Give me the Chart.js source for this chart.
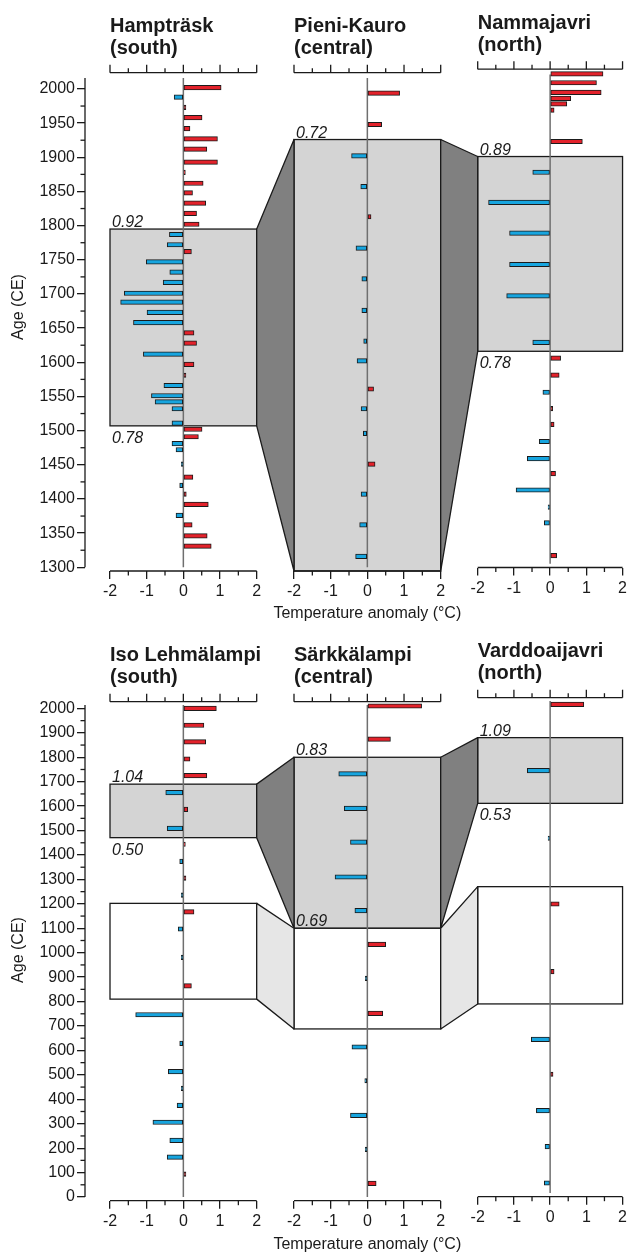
<!DOCTYPE html>
<html>
<head>
<meta charset="utf-8">
<script src="https://cdn.jsdelivr.net/npm/chart.js@4.4.1/dist/chart.umd.min.js"></script>
<style>
html, body { margin: 0; padding: 0; background: #fff; }
#wrap { position: relative; width: 630px; height: 1254px; }
#wrap canvas { position: absolute; left: 0; top: 0; }
</style>
</head>
<body>
<div id="wrap"></div>
<script>
// ---- data (ages in years CE, anomalies in °C) ----
const hampAges = [2002, 1988, 1973, 1958, 1942, 1927, 1912, 1893, 1878, 1862, 1848, 1833, 1818, 1802, 1787,
  1772, 1762, 1747, 1732, 1717, 1701, 1688, 1673, 1658, 1643, 1628, 1612, 1597, 1581, 1566,
  1551, 1542, 1532, 1511, 1502, 1491, 1481, 1472, 1451, 1432, 1420, 1407, 1392, 1376, 1362, 1346, 1331];
const hampVals = [1.03, -0.25, 0.07, 0.51, 0.18, 0.93, 0.64, 0.93, 0.05, 0.54, 0.25, 0.61, 0.36, 0.43, -0.38,
  -0.44, 0.22, -1.01, -0.37, -0.55, -1.61, -1.71, -0.99, -1.36, 0.29, 0.36, -1.09, 0.29, 0.07, -0.53,
  -0.87, -0.77, -0.31, -0.31, 0.51, 0.41, -0.31, -0.2, -0.02, 0.26, -0.1, 0.08, 0.68, -0.2, 0.24, 0.65, 0.76];

const pieniAges = [1994, 1948, 1902, 1857, 1813, 1767, 1722, 1676, 1631, 1602, 1561, 1532, 1496, 1451, 1407, 1362, 1316];
const pieniVals = [0.88, 0.39, -0.43, -0.18, 0.1, -0.31, -0.15, -0.15, -0.1, -0.28, 0.17, -0.17, -0.11, 0.21, -0.17, -0.21, -0.32];

const nammaAges = [2017, 2004, 1990, 1981, 1973, 1964, 1918, 1873, 1829, 1784, 1738, 1692, 1624,
  1601, 1576, 1551, 1527, 1504, 1479, 1454, 1432, 1408, 1383, 1360, 1312];
const nammaVals = [1.46, 1.28, 1.41, 0.57, 0.46, 0.11, 0.89, -0.48, -1.7, -1.12, -1.12, -1.2, -0.48,
  0.29, 0.25, -0.2, 0.07, 0.11, -0.3, -0.63, 0.15, -0.94, -0.02, -0.16, 0.18];

const isoAges = [2000, 1931, 1863, 1793, 1725, 1655, 1587, 1509, 1444, 1374, 1305, 1236, 1167, 1097,
  981, 864, 746, 629, 513, 445, 375, 306, 232, 163, 94];
const isoVals = [0.9, 0.56, 0.61, 0.18, 0.64, -0.48, 0.12, -0.44, 0.04, -0.1, 0.07, -0.04, 0.29, -0.14,
  -0.02, 0.22, -1.3, -0.1, -0.41, -0.02, -0.17, -0.83, -0.37, -0.44, 0.07];

const sarkAges = [2010, 1874, 1732, 1591, 1453, 1310, 1172, 1034, 895, 752, 614, 476, 334, 195, 56];
const sarkVals = [1.48, 0.63, -0.78, -0.63, -0.46, -0.88, -0.34, 0.5, -0.02, 0.42, -0.42, -0.07, -0.46, -0.02, 0.24];

const vardAges = [2000, 1729, 1452, 1183, 906, 629, 486, 337, 190, 41];
const vardVals = [0.93, -0.63, -0.02, 0.25, 0.11, -0.52, 0.08, -0.38, -0.14, -0.16];

// boxes: [upper age, lower age] and the correlation labels shown with them
const hampBox = [1795, 1507], hampBoxText = ["0.92", "0.78"];
const pieniBox = [1926, 1294.6], pieniBoxText = ["0.72", ""];
const nammaBox = [1896, 1611], nammaBoxText = ["0.89", "0.78"];
const isoBox = [1690, 1471], isoBoxText = ["1.04", "0.50"];
const isoBox2 = [1202, 810];
const sarkBox = [1800, 1100], sarkBoxText = ["0.83", "0.69"];
const sarkBox2 = [1100, 688];
const vardBox = [1864, 1595], vardBoxText = ["1.09", "0.53"];
const vardBox2 = [1254, 774];

const tempTicks = [-2, -1, 0, 1, 2];
const tempMinor = [-1.5, -0.5, 0.5, 1.5];
const topAgeTicks = [1300, 1350, 1400, 1450, 1500, 1550, 1600, 1650, 1700, 1750, 1800, 1850, 1900, 1950, 2000];
const bottomAgeTicks = [0, 100, 200, 300, 400, 500, 600, 700, 800, 900, 1000,
  1100, 1200, 1300, 1400, 1500, 1600, 1700, 1800, 1900, 2000];

// ---- styling / layout ----
const RED = "#e3222b", BLUE = "#17a5df", INK = "#1a1a1a";
const GRAY = "#d4d4d4", WHITE = "#ffffff", DARK = "#808080", LIGHT = "#e6e6e6";
const FONT = "'Liberation Sans', Arial, Helvetica, sans-serif";
Chart.defaults.font.family = FONT;
Chart.defaults.color = INK;

const rows = [
  { top: 72.7, bottom: 571, yMin: 1294.6, yMax: 2023.8, ticks: topAgeTicks, ageFrom: 1300, ageTo: 2016, titleY: 613.3, ageTitleY: 307, shift3: -3.5 },
  { top: 701.7, bottom: 1200.7, yMin: -15.1, yMax: 2027.5, ticks: bottomAgeTicks, ageFrom: 0, ageTo: 2014, titleY: 1245, ageTitleY: 950, shift3: -4 }
];
const colLeft = [110, 294, 477.7];
const colW = 146.7;
const yAxisW = 85;

const panels = [
  { name: ["Hampträsk", "(south)"], ages: hampAges, vals: hampVals, row: 0, col: 0,
    boxes: [{ range: hampBox, fill: GRAY, text: hampBoxText }] },
  { name: ["Pieni-Kauro", "(central)"], ages: pieniAges, vals: pieniVals, row: 0, col: 1,
    boxes: [{ range: pieniBox, fill: GRAY, text: pieniBoxText }] },
  { name: ["Nammajavri", "(north)"], ages: nammaAges, vals: nammaVals, row: 0, col: 2,
    boxes: [{ range: nammaBox, fill: GRAY, text: nammaBoxText }] },
  { name: ["Iso Lehmälampi", "(south)"], ages: isoAges, vals: isoVals, row: 1, col: 0,
    boxes: [{ range: isoBox, fill: GRAY, text: isoBoxText }, { range: isoBox2, fill: WHITE, text: [] }] },
  { name: ["Särkkälampi", "(central)"], ages: sarkAges, vals: sarkVals, row: 1, col: 1,
    boxes: [{ range: sarkBox, fill: GRAY, text: sarkBoxText, lowInside: true }, { range: sarkBox2, fill: WHITE, text: [] }] },
  { name: ["Varddoaijavri", "(north)"], ages: vardAges, vals: vardVals, row: 1, col: 2,
    boxes: [{ range: vardBox, fill: GRAY, text: vardBoxText }, { range: vardBox2, fill: WHITE, text: [] }] }
];

// [from panel, to panel, box index, fill]
const links = [[0, 1, 0, DARK], [1, 2, 0, DARK], [3, 4, 0, DARK], [3, 4, 1, LIGHT], [4, 5, 0, DARK], [4, 5, 1, LIGHT]];

const wrap = document.getElementById("wrap");

function seg(ctx, x1, y1, x2, y2) {
  ctx.beginPath(); ctx.moveTo(x1, y1); ctx.lineTo(x2, y2); ctx.stroke();
}

function decor(p, r) {
  return {
    id: "decor",
    beforeDatasetsDraw(chart) {
      const { ctx, scales: { x, y } } = chart;
      const x0 = x.getPixelForValue(-2), x1 = x.getPixelForValue(2);
      ctx.save();
      p.boxes.forEach(b => {
        const t = y.getPixelForValue(b.range[0]), bt = y.getPixelForValue(b.range[1]);
        ctx.fillStyle = b.fill;
        ctx.fillRect(x0, t, x1 - x0, bt - t);
        ctx.strokeStyle = INK; ctx.lineWidth = 1.3;
        ctx.strokeRect(x0, t, x1 - x0, bt - t);
      });
      const zx = x.getPixelForValue(0);
      ctx.strokeStyle = "#6f6f6f"; ctx.lineWidth = 1.5;
      seg(ctx, zx, y.getPixelForValue(r.ageTo), zx, y.getPixelForValue(r.ageFrom));
      ctx.restore();
    },
    afterDraw(chart) {
      const { ctx, chartArea: a, scales: { x, y } } = chart;
      const x0 = x.getPixelForValue(-2), x1 = x.getPixelForValue(2);
      ctx.save();
      ctx.strokeStyle = INK; ctx.lineWidth = 1.3;
      // top axis
      seg(ctx, x0, a.top, x1, a.top);
      tempTicks.forEach(v => { const px = x.getPixelForValue(v); seg(ctx, px, a.top, px, a.top - 8); });
      tempMinor.forEach(v => { const px = x.getPixelForValue(v); seg(ctx, px, a.top, px, a.top - 4.5); });
      // bottom axis line + minor ticks
      seg(ctx, x0, a.bottom, x1, a.bottom);
      tempMinor.forEach(v => { const px = x.getPixelForValue(v); seg(ctx, px, a.bottom, px, a.bottom + 4.5); });
      // age axis
      if (p.col === 0) {
        seg(ctx, a.left, y.getPixelForValue(r.ageFrom), a.left, y.getPixelForValue(r.ageTo));
        r.ticks.slice(1).forEach((v, i) => {
          const py = y.getPixelForValue((v + r.ticks[i]) / 2);
          seg(ctx, a.left, py, a.left - 4.5, py);
        });
        ctx.save();
        ctx.translate(19, r.ageTitleY);
        ctx.rotate(-Math.PI / 2);
        ctx.fillStyle = INK; ctx.font = "16px " + FONT;
        ctx.textAlign = "center"; ctx.textBaseline = "middle";
        ctx.fillText("Age (CE)", 0, 0);
        ctx.restore();
      }
      // axis title under the middle panel
      if (p.col === 1) {
        ctx.fillStyle = INK; ctx.font = "16px " + FONT;
        ctx.textAlign = "center"; ctx.textBaseline = "middle";
        ctx.fillText("Temperature anomaly (°C)", (x0 + x1) / 2, r.titleY);
      }
      // site title
      ctx.fillStyle = INK; ctx.font = "bold 20px " + FONT;
      ctx.textAlign = "left"; ctx.textBaseline = "alphabetic";
      ctx.fillText(p.name[0], x0, a.top - 40.5);
      ctx.fillText(p.name[1], x0, a.top - 18.5);
      // correlation labels
      ctx.font = "italic 16px " + FONT;
      p.boxes.forEach(b => {
        const t = y.getPixelForValue(b.range[0]), bt = y.getPixelForValue(b.range[1]);
        if (b.text[0]) ctx.fillText(b.text[0], x0 + 2, t - 2);
        if (b.text[1]) ctx.fillText(b.text[1], x0 + 2, b.lowInside ? bt - 2 : bt + 17);
      });
      ctx.restore();
    }
  };
}

function makePanel(p) {
  const r = rows[p.row];
  const shift = p.col === 2 ? r.shift3 : 0;
  const left = colLeft[p.col];
  const withY = p.col === 0;
  const xMin = withY ? -2 - (left - yAxisW) / (colW / 4) : -2;
  const axisH = r.titleY + 8 - r.bottom;
  const cv = document.createElement("canvas");
  cv.width = 630; cv.height = 1254;
  wrap.appendChild(cv);
  return new Chart(cv, {
    type: "bar",
    data: {
      datasets: [{
        data: p.ages.map((a, i) => ({ x: p.vals[i], y: a })),
        backgroundColor: c => (c.raw && c.raw.x < 0) ? BLUE : RED,
        borderColor: "#1b1b1b",
        borderWidth: 1,
        borderSkipped: false,
        barThickness: 4.5,
        minBarLength: 2
      }]
    },
    options: {
      indexAxis: "y",
      responsive: false,
      animation: false,
      devicePixelRatio: 1,
      events: [],
      layout: {
        padding: {
          left: withY ? 0 : left,
          right: 630 - (left + colW),
          top: r.top + shift,
          bottom: 1254 - (r.bottom + shift) - axisH
        }
      },
      plugins: { legend: { display: false }, tooltip: { enabled: false } },
      scales: {
        x: {
          type: "linear", min: xMin, max: 2,
          afterBuildTicks: s => { s.ticks = tempTicks.map(v => ({ value: v })); },
          afterFit: s => { s.height = axisH; },
          ticks: { font: { size: 16 }, color: INK, padding: 3, maxRotation: 0, autoSkip: false, callback: v => String(v) },
          grid: { drawOnChartArea: false, drawTicks: true, tickLength: 8, color: INK, lineWidth: 1.3, offset: false },
          border: { display: false }
        },
        y: {
          type: "linear", display: withY, min: r.yMin, max: r.yMax, offset: false,
          afterBuildTicks: s => { s.ticks = r.ticks.map(v => ({ value: v })); },
          afterFit: s => { s.width = withY ? yAxisW : 0; },
          ticks: { font: { size: 16 }, color: INK, padding: 2, autoSkip: false, callback: v => String(v) },
          grid: { drawOnChartArea: false, drawTicks: true, tickLength: 8, color: INK, lineWidth: 1.3, offset: false },
          border: { display: false }
        }
      }
    },
    plugins: [decor(p, r)]
  });
}

const charts = panels.map(makePanel);

// connectors between neighbouring boxes
const ov = document.createElement("canvas");
ov.width = 630; ov.height = 1254;
wrap.appendChild(ov);
const octx = ov.getContext("2d");
links.forEach(([ia, ib, bi, fill]) => {
  const A = charts[ia], B = charts[ib];
  const ra = panels[ia].boxes[bi].range, rb = panels[ib].boxes[bi].range;
  const xa = A.scales.x.getPixelForValue(2), xb = B.scales.x.getPixelForValue(-2);
  octx.beginPath();
  octx.moveTo(xa, A.scales.y.getPixelForValue(ra[0]));
  octx.lineTo(xb, B.scales.y.getPixelForValue(rb[0]));
  octx.lineTo(xb, B.scales.y.getPixelForValue(rb[1]));
  octx.lineTo(xa, A.scales.y.getPixelForValue(ra[1]));
  octx.closePath();
  octx.fillStyle = fill; octx.fill();
  octx.strokeStyle = INK; octx.lineWidth = 1.3; octx.lineJoin = "round"; octx.stroke();
});
</script>
</body>
</html>
